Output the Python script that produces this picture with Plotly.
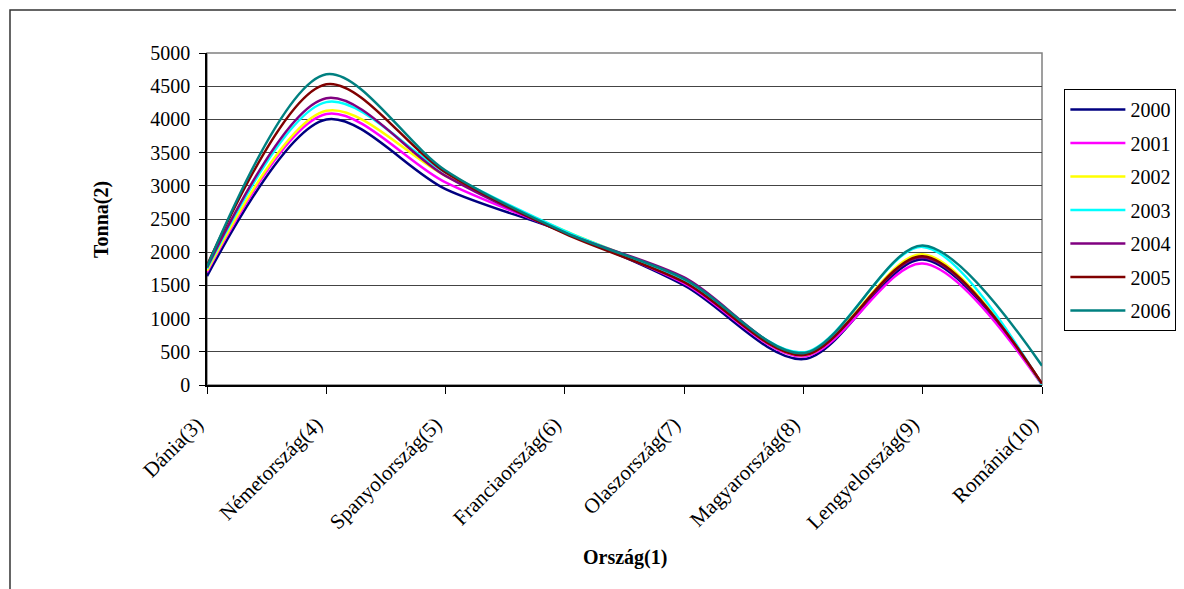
import plotly.graph_objects as go

categories = ["Dánia(3)", "Németország(4)", "Spanyolország(5)", "Franciaország(6)",
              "Olaszország(7)", "Magyarország(8)", "Lengyelország(9)", "Románia(10)"]

y2000 = [1640, 4000, 2950, 2300, 1500, 390, 1890, 10]
y2001 = [1700, 4080, 3050, 2300, 1530, 430, 1830, 0]
y2002 = [1720, 4130, 3150, 2320, 1570, 450, 1970, 10]
y2003 = [1750, 4260, 3200, 2320, 1580, 490, 2080, 0]
y2004 = [1770, 4320, 3150, 2290, 1620, 460, 1920, 20]
y2005 = [1800, 4530, 3200, 2280, 1550, 450, 1940, 20]
y2006 = [1780, 4680, 3230, 2300, 1600, 480, 2100, 290]

series = [
    ("2000", y2000, "#000080"),
    ("2001", y2001, "#FF00FF"),
    ("2002", y2002, "#FFFF00"),
    ("2003", y2003, "#00FFFF"),
    ("2004", y2004, "#800080"),
    ("2005", y2005, "#800000"),
    ("2006", y2006, "#008080"),
]

FONT = "Liberation Serif, Times New Roman, serif"

fig = go.Figure()
for name, vals, color in series:
    fig.add_trace(go.Scatter(
        x=categories, y=vals, name=name, mode="lines",
        line=dict(color=color, width=2.5, shape="spline", smoothing=0.9),
        legendgroup=name,
    ))

fig.update_layout(
    width=1184, height=589,
    margin=dict(l=199, r=150, t=45, b=212),
    paper_bgcolor="white", plot_bgcolor="white",
    font=dict(family=FONT, size=20, color="black"),
    showlegend=True,
    legend=dict(
        x=1.0268, y=0.8916, xanchor="left", yanchor="top",
        bordercolor="black", borderwidth=1, bgcolor="white",
        font=dict(family=FONT, size=20, color="black"),
        tracegroupgap=4.5, itemwidth=55,
    ),
    xaxis=dict(
        type="category", range=[0, 7],
        showgrid=False, showline=True, linecolor="black", linewidth=1.5,
        ticks="outside", ticklen=7, tickcolor="black",
        tickangle=-45, tickfont=dict(family=FONT, size=21),
        ticklabelstandoff=10, ticklabelshift=-10,
        zeroline=False,
    ),
    yaxis=dict(
        range=[0, 5000], dtick=500, tick0=0,
        showgrid=True, gridcolor="#444444", gridwidth=1,
        showline=True, linecolor="black", linewidth=1.5,
        ticks="outside", ticklen=6, tickcolor="black",
        tickfont=dict(family=FONT, size=20),
        ticklabelstandoff=5,
        zeroline=False,
    ),
    shapes=[
        dict(type="rect", xref="paper", yref="paper", x0=0, x1=1, y0=0, y1=1,
             line=dict(color="#808080", width=1.5), layer="below"),
        dict(type="rect", xref="paper", yref="paper", x0=-0.23593, x1=1.5, y0=-1, y1=1.12952,
             line=dict(color="#333333", width=1.5), layer="below"),
    ],
    annotations=[
        dict(text="<b>Tonna(2)</b>", xref="paper", yref="paper", x=-0.127, y=0.5,
             xanchor="center", yanchor="middle",
             textangle=-90, showarrow=False, font=dict(family=FONT, size=20)),
        dict(text="<b>Ország(1)</b>", xref="paper", yref="paper", x=0.5, y=-0.521,
             xanchor="center", yanchor="middle",
             showarrow=False, font=dict(family=FONT, size=20)),
    ],
)

fig.write_html("out.html")
